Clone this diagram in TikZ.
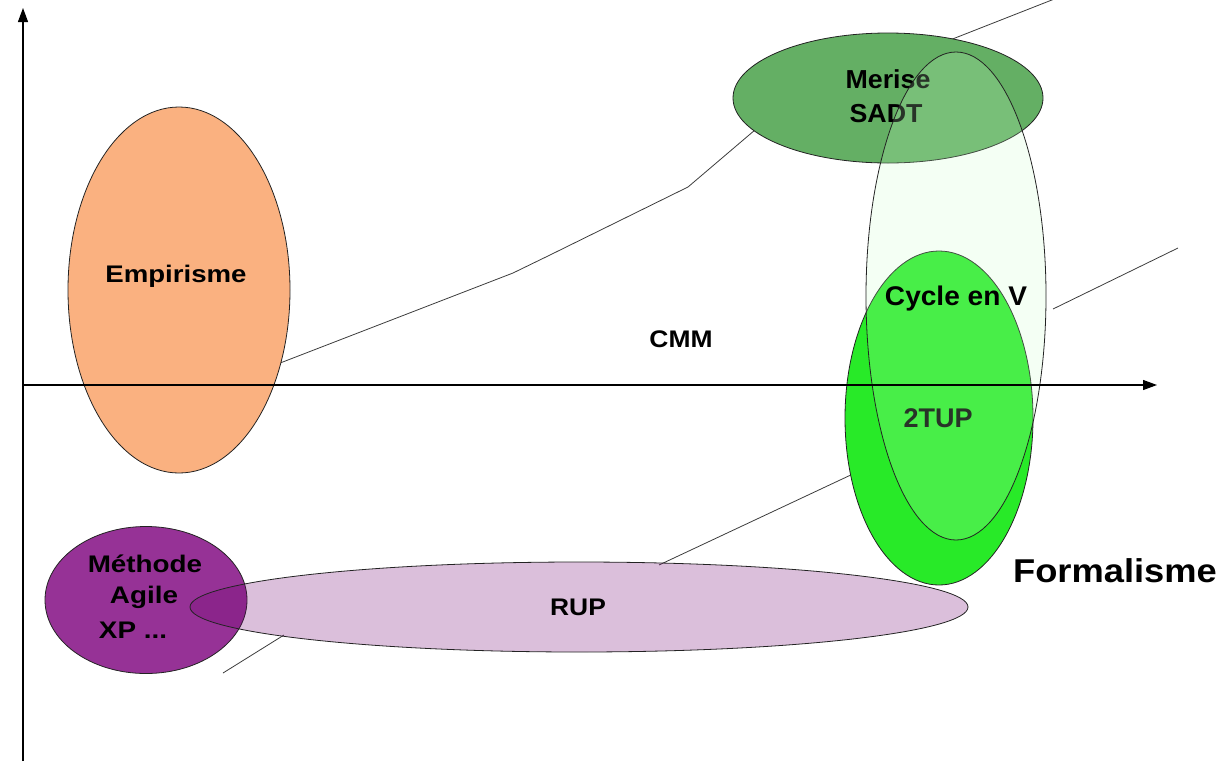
\documentclass[tikz,border=0pt]{standalone}
\usepackage{fontspec}
\setmainfont{Liberation Sans}
\usetikzlibrary{shapes.geometric,arrows.meta}

% bold label, horizontally stretched: #1 stretch, #2 size in pt, #3 text
\newcommand\lbl[3]{\scalebox{#1}[1]{\fontsize{#2pt}{#2pt}\selectfont\bfseries #3}}

\definecolor{outl}{RGB}{35,35,35}
\definecolor{trail}{RGB}{60,60,60}
\definecolor{empfill}{RGB}{250,177,128}
\definecolor{merfill}{RGB}{100,175,100}
\definecolor{cycfill}{RGB}{200,255,200}
\definecolor{tupfill}{RGB}{40,234,40}
\definecolor{agifill}{RGB}{150,50,150}
\definecolor{rupfill}{RGB}{110,0,110}

\begin{document}
\begin{tikzpicture}[x=1pt,y=-1pt,
  blob/.style={ellipse, draw=outl, line width=0.8pt, inner sep=0pt, outer sep=0pt},
  txt/.style={anchor=base, inner sep=0pt, outer sep=0pt},
  trailline/.style={draw=trail, line width=0.8pt},
  axisline/.style={draw=black, line width=1.2pt, -{Triangle[length=14pt,width=10pt]}}]
\useasboundingbox (0,0) rectangle (1228,761);
\clip (0,0) rectangle (1228,761);

% trend lines (their hidden parts run under the opaque ellipses)
\coordinate (a1) at (275,365);
\coordinate (a2) at (513,273);
\coordinate (a3) at (550,255);
\coordinate (a4) at (688,187);
\coordinate (a5) at (762,124);
\coordinate (b1) at (950,40);
\coordinate (b2) at (1062,-4);
\coordinate (c1) at (223,673);
\coordinate (c2) at (284,635);
\coordinate (d1) at (659,565);
\coordinate (d2) at (855,473);
\coordinate (e1) at (1053,309);
\coordinate (e2) at (1178,248);
\draw[trailline] (a1) -- (a2) -- (a3) -- (a4) -- (a5);
\draw[trailline] (b1) -- (b2);
\draw[trailline] (c1) -- (c2);
\draw[trailline] (d1) -- (d2);
\draw[trailline] (e1) -- (e2);

% Empirisme
\node[blob, fill=empfill, minimum width=222pt, minimum height=366pt] (emp) at (179,290) {};
\node[txt] (tEmp) at (176,282) {\lbl{1.15}{24}{Empirisme}};

% Methode agile
\node[blob, fill=agifill, minimum width=202pt, minimum height=147pt] (agi) at (146,600) {};
\node[txt] (tAgi1) at (145,572) {\lbl{1.16}{24}{Méthode}};
\node[txt] (tAgi2) at (144,603) {\lbl{1.16}{24}{Agile}};
\node[txt] (tAgi3) at (133,638) {\lbl{1.16}{24}{XP ...}};

% RUP (translucent)
\node[blob, fill=rupfill, fill opacity=0.25, minimum width=778pt, minimum height=90pt] (rup) at (579,607) {};
\node[txt] (tRup) at (578,615) {\lbl{1.1}{24}{RUP}};

% Merise / SADT
\node[blob, fill=merfill, minimum width=310pt, minimum height=130pt] (mer) at (888,98) {};
\node[txt] (tMer1) at (888,88) {\lbl{1.03}{26}{Merise}};
\node[txt] (tMer2) at (886,122) {\lbl{1.03}{26}{SADT}};

% 2TUP
\node[blob, fill=tupfill, minimum width=188pt, minimum height=334pt] (tup) at (939,418) {};
\node[txt] (tTup) at (938,427) {\lbl{1.0}{27}{2TUP}};

% Cycle en V (translucent, on top)
\node[blob, fill=cycfill, fill opacity=0.2, minimum width=180pt, minimum height=488pt] (cyc) at (956,296) {};
\node[txt] (tCyc) at (956,305) {\lbl{1.04}{27}{Cycle en V}};

% free labels
\node[txt] (tCmm) at (681,347) {\lbl{1.1}{24}{CMM}};
\node[txt] (tFor) at (1115,582) {\lbl{1.1}{33}{Formalisme}};

% axes
\coordinate (yb) at (23,761);
\coordinate (yt) at (23,8);
\coordinate (xl) at (22,385);
\coordinate (xr) at (1157,385);
\draw[axisline] (yb) -- (yt);
\draw[axisline] (xl) -- (xr);
\end{tikzpicture}
\end{document}
